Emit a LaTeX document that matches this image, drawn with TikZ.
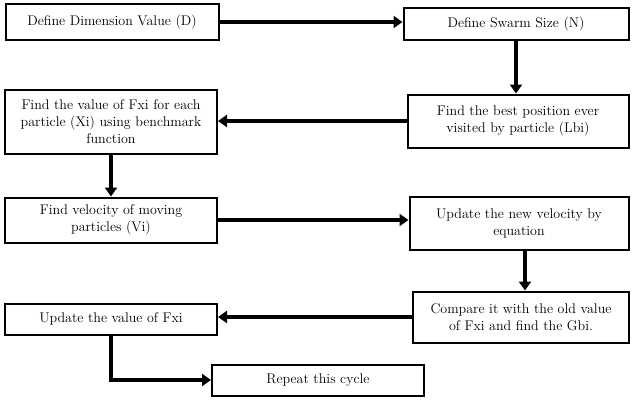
\documentclass[tikz,border=0pt]{standalone}
\usetikzlibrary{arrows.meta}
\begin{document}
\begin{tikzpicture}[x=1pt,y=-1pt,
  box/.style={draw,line width=2pt,align=center,font=\fontsize{14}{17}\selectfont,inner sep=2pt},
  flow/.style={line width=3.5pt,-{Triangle[length=9pt,width=12pt]}}]
\useasboundingbox (0,0) rectangle (634,402);
\node[box,minimum width=213,minimum height=36] (a) at (112,22) {Define Dimension Value (D)};
\node[box,minimum width=225,minimum height=32] (b) at (516,24) {Define Swarm Size (N)};
\node[box,minimum width=221,minimum height=53] (c) at (518,121) {Find the best position ever\\ visited by particle (Lbi)};
\node[box,minimum width=212,minimum height=64] (d) at (111,122) {Find the value of Fxi for each\\ particle (Xi) using benchmark\\ function};
\node[box,minimum width=212,minimum height=45] (e) at (111,220) {Find velocity of moving\\ particles (Vi)};
\node[box,minimum width=219,minimum height=53] (f) at (519,223) {Update the new velocity by\\ equation};
\node[box,minimum width=216,minimum height=51] (g) at (521,317) {Compare it with the old value\\ of Fxi and find the Gbi.};
\node[box,minimum width=212,minimum height=31] (h) at (111,319) {Update the value of Fxi};
\node[box,minimum width=212,minimum height=31] (i) at (318,380) {Repeat this cycle};
\draw[flow] (a.east) -- (b.west|-a.east);
\draw[flow] (b.south) -- (b.south|-c.north);
\draw[flow] (c.west) -- (d.east|-c.west);
\draw[flow] (d.south) -- (e.north);
\draw[flow] (e.east) -- (f.west|-e.east);
\draw[flow] (f.south-|525,0) -- (525,0|-g.north);
\draw[flow] (g.west) -- (h.east|-g.west);
\draw[flow] (h.south) |- (i.west);
\end{tikzpicture}
\end{document}
